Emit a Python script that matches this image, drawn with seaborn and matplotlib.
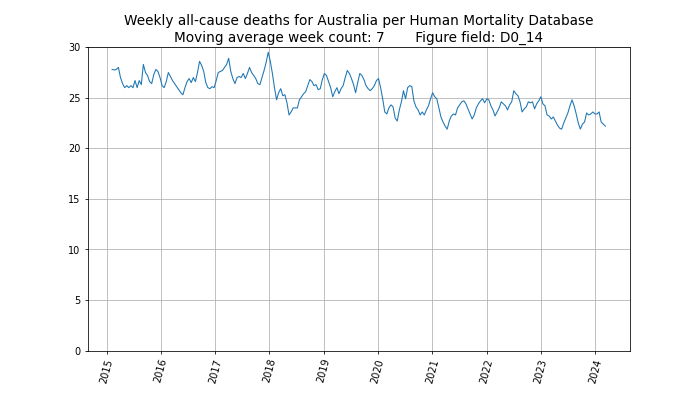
import numpy as np
import pandas as pd
import matplotlib
matplotlib.use('Agg')
import matplotlib.pyplot as plt
import matplotlib.dates as mdates
import seaborn as sns

# Estimated moving-average weekly deaths (hundreds), read every 2 weeks from the figure
start_date = '2015-02-08'
deaths = [
    27.8, 27.75, 27.8, 28.0, 27.0, 26.4, 26.0, 26.2, 26.0, 26.2,
    26.0, 26.7, 26.0, 26.7, 26.3, 28.3, 27.5, 27.2, 26.6, 26.4,
    27.3, 27.8, 27.6, 27.0, 26.2, 26.0, 26.6, 27.5, 27.1, 26.7,
    26.4, 26.1, 25.8, 25.5, 25.3, 26.0, 26.6, 26.9, 26.5, 27.0,
    26.6, 27.5, 28.6, 28.2, 27.6, 26.5, 26.0, 25.9, 26.1, 26.0,
    26.7, 27.5, 27.6, 27.7, 28.0, 28.3, 28.9, 27.6, 26.9, 26.4,
    27.0, 27.1, 27.0, 27.4, 26.9, 27.4, 28.0, 27.5, 27.2, 26.9,
    26.4, 26.3, 27.0, 27.7, 28.5, 29.5, 28.6, 27.4, 26.0, 24.8,
    25.5, 25.9, 25.2, 25.3, 24.5, 23.3, 23.6, 24.0, 24.0, 24.0,
    24.8, 25.1, 25.4, 25.6, 26.2, 26.8, 26.6, 26.2, 26.3, 25.8,
    25.9, 26.8, 27.4, 27.2, 26.6, 26.0, 25.1, 25.6, 26.0, 25.4,
    25.9, 26.2, 27.0, 27.7, 27.4, 26.9, 26.3, 25.5, 26.5, 27.4,
    27.2, 26.8, 26.2, 25.9, 25.7, 25.9, 26.2, 26.7, 26.9, 26.0,
    24.9, 23.6, 23.4, 24.0, 24.3, 24.1, 23.0, 22.7, 23.8, 24.6,
    25.7, 24.9, 26.0, 26.2, 26.1, 24.7, 24.1, 23.8, 23.3, 23.6,
    23.3, 23.8, 24.2, 24.9, 25.5, 25.1, 24.9, 24.0, 23.1, 22.6,
    22.2, 21.9, 22.7, 23.2, 23.4, 23.3, 24.0, 24.3, 24.6, 24.7,
    24.4, 23.9, 23.4, 22.9, 23.3, 24.0, 24.4, 24.7, 24.9, 24.5,
    24.9, 24.8, 24.2, 23.8, 23.2, 23.6, 24.0, 24.6, 24.4, 24.2,
    23.8, 24.3, 24.6, 25.7, 25.4, 25.2, 24.6, 23.6, 23.9, 24.1,
    24.6, 24.5, 24.6, 23.9, 24.4, 24.7, 25.1, 24.4, 24.2, 23.3,
    23.2, 22.9, 23.1, 22.7, 22.3, 22.0, 21.9, 22.5, 23.0, 23.5,
    24.2, 24.8, 24.2, 23.4, 22.5, 21.9, 22.4, 22.6, 23.5, 23.3,
    23.4, 23.6, 23.4, 23.4, 23.6, 22.6, 22.4, 22.2,
]

dates = pd.date_range(start_date, periods=len(deaths), freq='14D')
df = pd.DataFrame({'Date': dates, 'Deaths': deaths})

fig, ax = plt.subplots(figsize=(10, 5.63), dpi=70)
sns.lineplot(data=df, x='Date', y='Deaths', ax=ax, color='C0', linewidth=1.1)

ax.set_title('Weekly all-cause deaths for Australia per Human Mortality Database\n'
             'Moving average week count: 7       Figure field: D0_14', fontsize=14)
ax.set_xlabel('')
ax.set_ylabel('')
ax.set_ylim(0, 30)
ax.xaxis.set_major_locator(mdates.YearLocator())
ax.xaxis.set_major_formatter(mdates.DateFormatter('%Y'))
plt.setp(ax.get_xticklabels(), rotation=75)
ax.grid(True)

fig.savefig('out.png', dpi=70)
